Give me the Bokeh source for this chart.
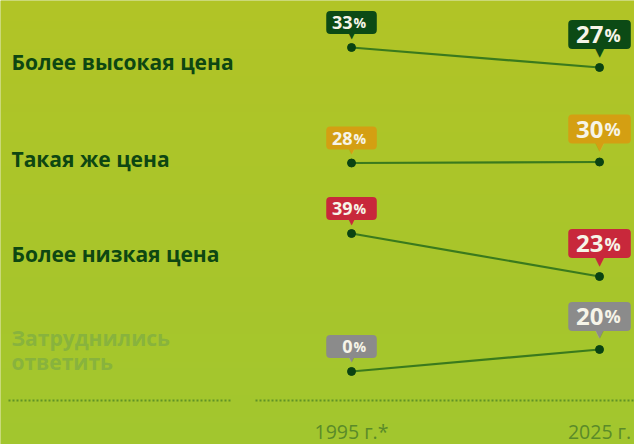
import numpy as np
from bokeh.plotting import figure
from bokeh.models import Range1d, ColumnDataSource
from bokeh.embed import file_html
from bokeh.resources import INLINE
from bokeh.core.properties import value

# ---- data ----
years = [1995, 2025]
year_labels = ["1995 г.*", "2025 г."]
categories = ["Более высокая цена", "Такая же цена", "Более низкая цена", "Затруднились\nответить"]
share_1995 = [33, 28, 39, 0]
share_2025 = [27, 30, 23, 20]

# ---- style / layout ----
W, H = 634, 444
BG = "#abc42a"
BG_TOP = (177, 196, 38)
BG_BOTTOM = (162, 198, 46)
row_colors = ["#0c4a15", "#d49f12", "#c8283b", "#8b8b8b"]
label_colors = ["#0e4712", "#0e4712", "#0e4712", "#88b33d"]
row_ranges = [(-86.1, 47.1), (-535, 353), (-39.5, 125.7), (-66.4, 337.3)]
label_y = [61, 158, 253, 337]
LINE_STEP = 24
FONT = value("Open Sans")

p = figure(width=W, height=H, x_range=Range1d(0, W), y_range=Range1d(H, 0),
           x_axis_type=None, y_axis_type=None, toolbar_location=None,
           output_backend="svg", min_border=0, background_fill_color=BG,
           border_fill_color=BG, outline_line_color=None)
p.grid.visible = False
p.extra_x_ranges = {"year": Range1d(1952.54, 2029.23)}
p.extra_y_ranges = {f"row{i}": Range1d(s, e) for i, (s, e) in enumerate(row_ranges)}
p.extra_y_ranges["bg"] = Range1d(0, 1)

# background gradient (decorative)
n = 64
t = np.linspace(0, 1, n)[:, None]
rgba = np.zeros((n, 1, 4), dtype=np.uint8)
for c in range(3):
    rgba[:, :, c] = np.round(BG_BOTTOM[c] + (BG_TOP[c] - BG_BOTTOM[c]) * t).astype(np.uint8)
rgba[:, :, 3] = 255
p.image_rgba(image=[rgba.view(np.uint32).reshape(n, 1)], x=0, y=0, dw=W, dh=1,
             y_range_name="bg")

# dotted baseline
p.segment(x0=[8, 255], x1=[232, 634], y0=400, y1=400, line_color="#4f8423",
          line_width=2, line_dash="2 2", line_alpha=0.8)

# year labels
p.text(x=years, y=431, text=year_labels, x_range_name="year", text_align="center",
       text_baseline="alphabetic", text_font=FONT, text_font_size="19.5px",
       text_color="#5a8b29")

# category labels (one text per line)
lx, ly, lt, lc = [], [], [], []
for i, cat in enumerate(categories):
    for k, line in enumerate(cat.split("\n")):
        lx.append(11)
        ly.append(label_y[i] + k * LINE_STEP)
        lt.append(line)
        lc.append(label_colors[i])
p.text(x=lx, y=ly, text=lt, text_align="left", text_baseline="alphabetic",
       text_font=FONT, text_font_size="21px", text_font_style="bold",
       text_color=lc)

sizes = [
    dict(box_off=-25, pad=(25, 11), dsize="18px", psize="14px", base_off=-25,
         dx=1, px=2, ptr_off=-14, ptr_size="12px"),
    dict(box_off=-33, pad=(31, 14), dsize="24px", psize="18px", base_off=-33,
         dx=4, px=5, ptr_off=-17, ptr_size="14px"),
]

for i in range(len(categories)):
    rn = f"row{i}"
    vals = [share_1995[i], share_2025[i]]
    src = ColumnDataSource(dict(x=years, y=vals))
    p.line("x", "y", source=src, x_range_name="year", y_range_name=rn,
           line_color="#3a7a1d", line_width=2.2)
    p.scatter("x", "y", source=src, x_range_name="year", y_range_name=rn,
              size=8, color="#0a4312")
    for j in range(2):
        s = sizes[j]
        one = ColumnDataSource(dict(x=[years[j]], y=[vals[j]], t=[str(vals[j])]))
        # pointer
        p.text(x="x", y="y", text=value("▼"), source=one, x_range_name="year", y_range_name=rn,
               text_align="center", text_baseline="middle", text_font=value("DejaVu Sans"),
               text_font_size=s["ptr_size"], text_color=row_colors[i], y_offset=s["ptr_off"])
        # rounded box
        p.text(x="x", y="y", text=value("\u2007"), source=one, x_range_name="year", y_range_name=rn,
               text_align="center", text_baseline="middle", text_font_size="1px",
               text_color=row_colors[i], y_offset=s["box_off"],
               background_fill_color=row_colors[i], padding=s["pad"], border_radius=4)
        # number
        p.text(x="x", y="y", text="t", source=one, x_range_name="year", y_range_name=rn,
               text_align="right", text_baseline="alphabetic", text_font=FONT,
               text_font_size=s["dsize"], text_font_style="bold", text_color="#f6f4e8",
               x_offset=s["dx"], y_offset=s["base_off"])
        # percent sign
        p.text(x="x", y="y", text=value("%"), source=one, x_range_name="year", y_range_name=rn,
               text_align="left", text_baseline="alphabetic", text_font=FONT,
               text_font_size=s["psize"], text_font_style="bold", text_color="#f6f4e8",
               x_offset=s["px"], y_offset=s["base_off"])

open("out.html", "w").write(file_html(p, INLINE))
